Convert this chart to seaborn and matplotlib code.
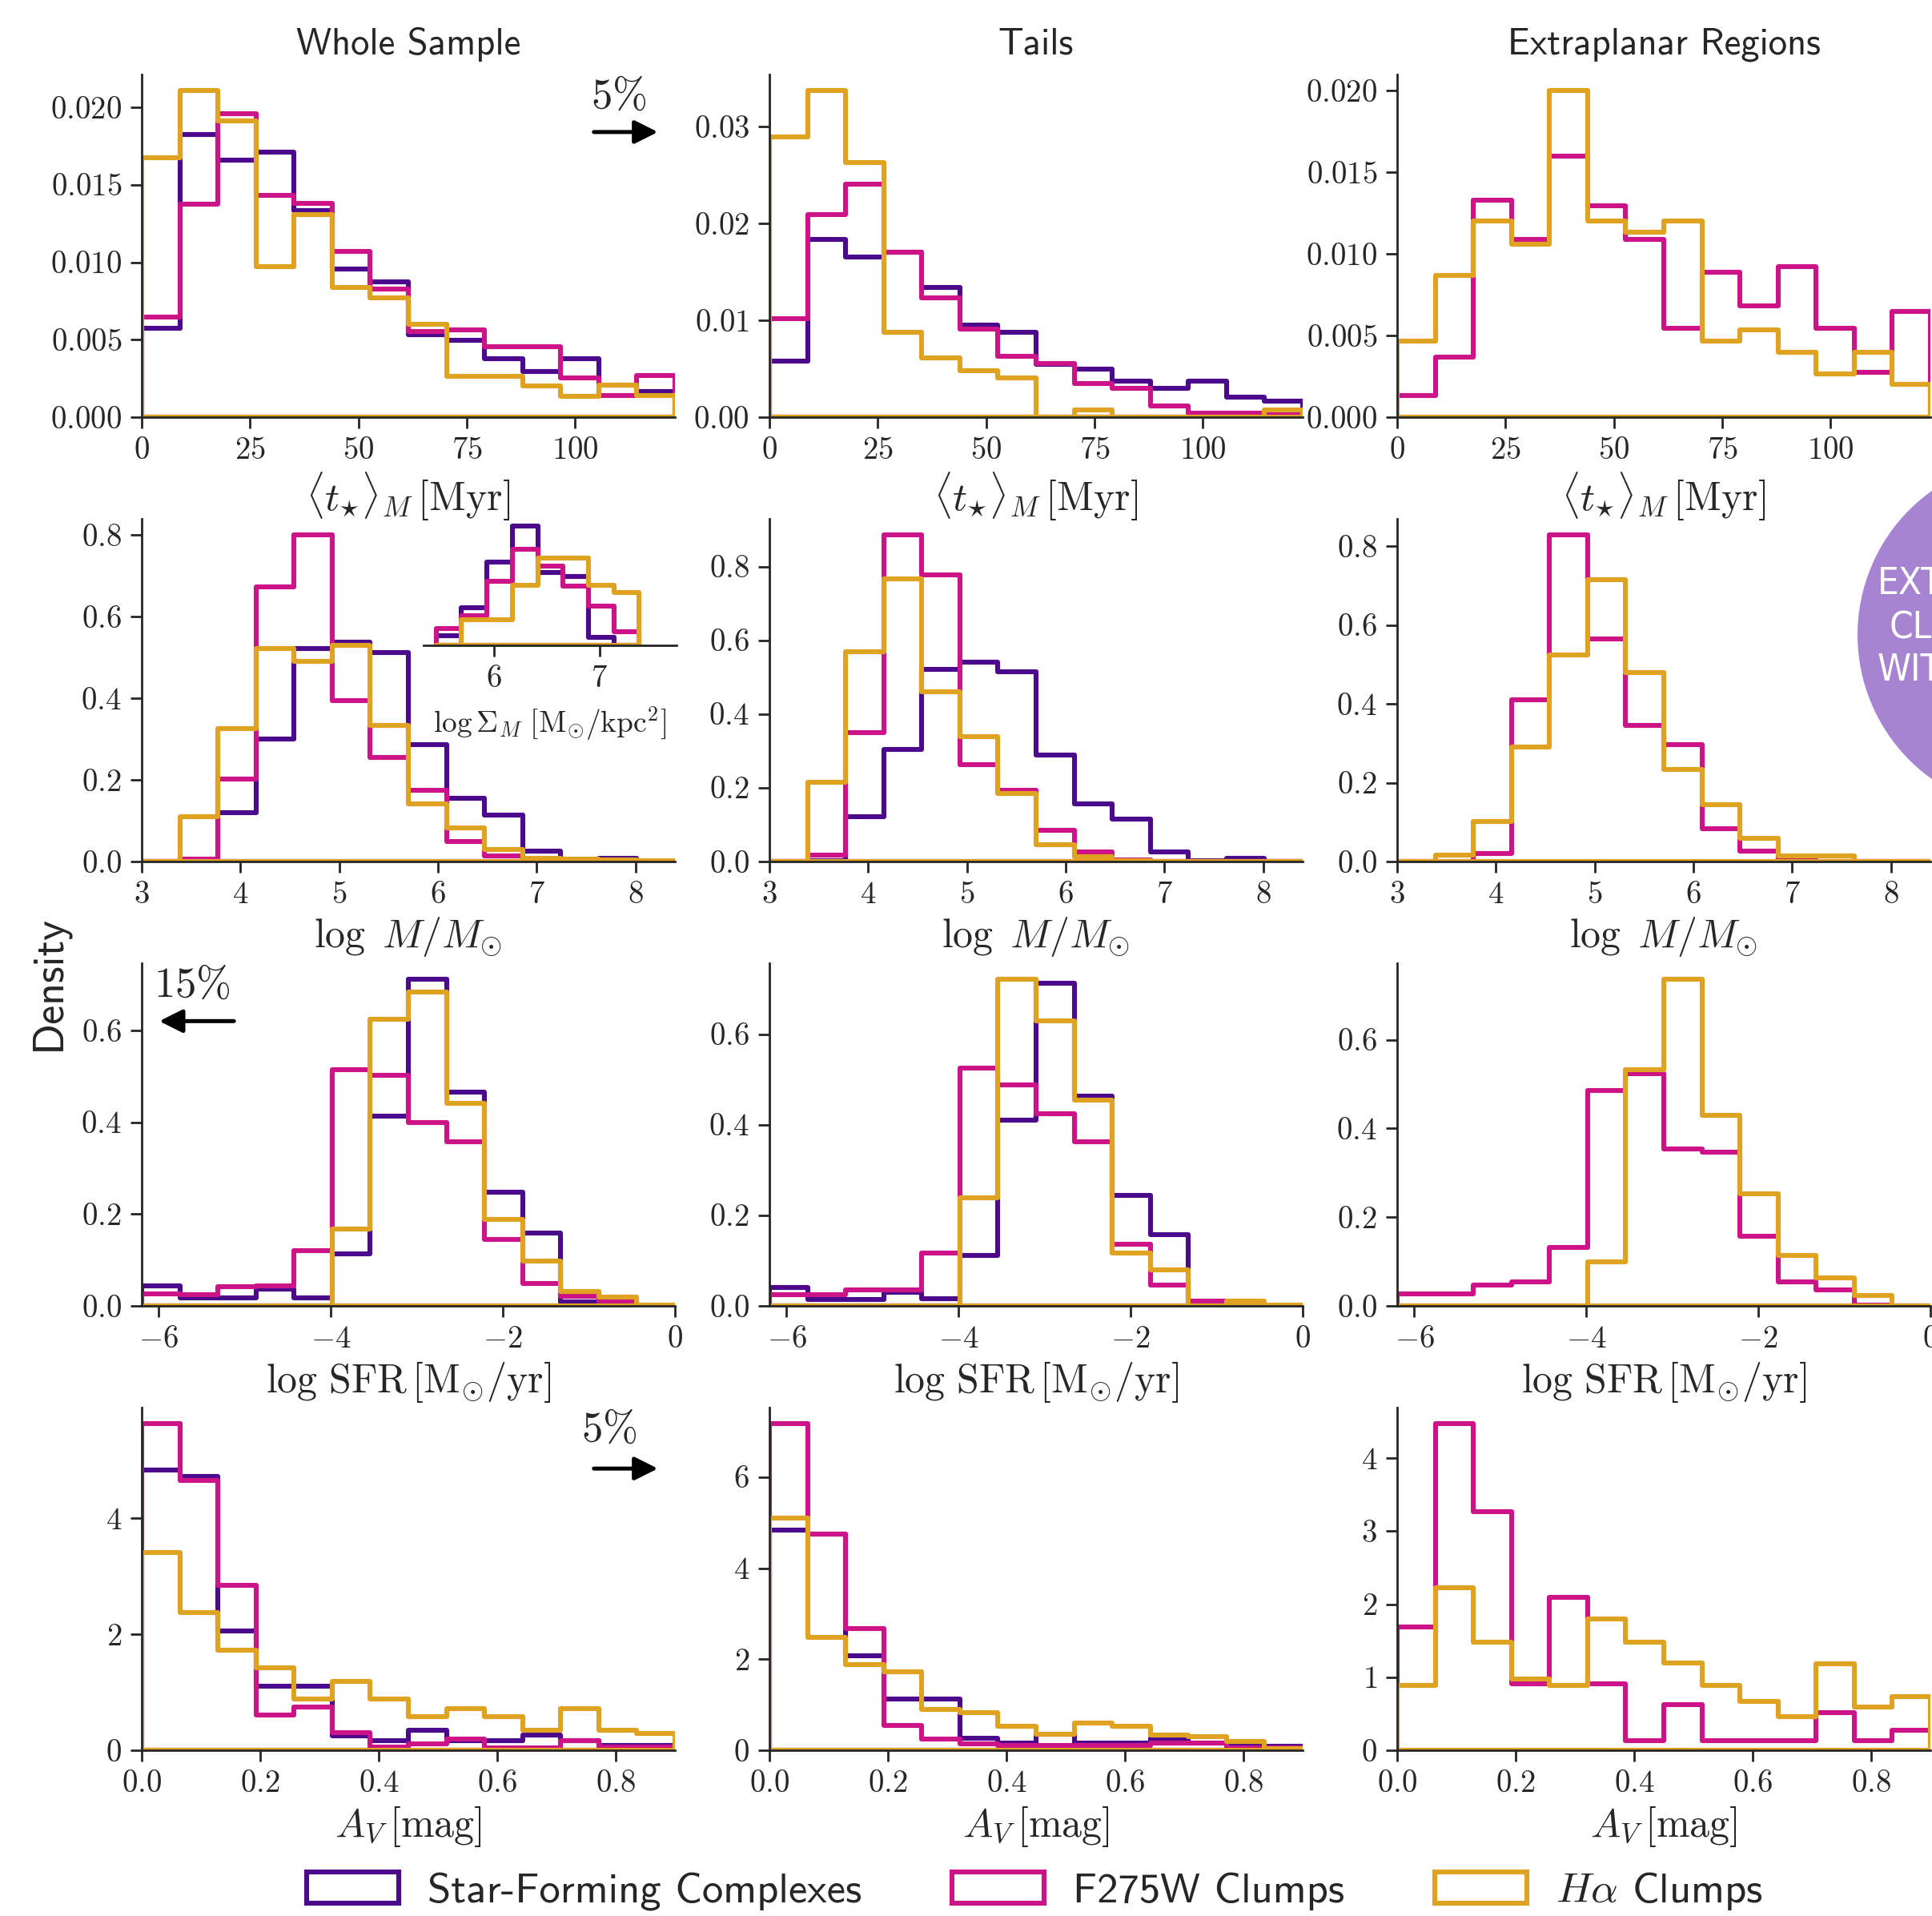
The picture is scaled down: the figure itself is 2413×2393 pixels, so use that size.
import numpy as np
import pandas as pd
import matplotlib
matplotlib.use("Agg")
import matplotlib.pyplot as plt
from matplotlib.patches import Patch, Ellipse
from matplotlib.ticker import FuncFormatter
import seaborn as sns

# ---------------------------------------------------------------------------
# Data: histogram densities per bin (14 bins per panel)
# ---------------------------------------------------------------------------
SERIES = ["Star-Forming Complexes", "F275W Clumps", r"$H\alpha$ Clumps"]
COLORS = ["#4b0a8c", "#cc1488", "#dfa321"]
SAMPLES = ["Whole Sample", "Tails", "Extraplanar Regions"]

AGE_RANGE = (0.0, 123.0)
MASS_RANGE = (3.0, 8.4)
SFR_RANGE = (-6.2, 0.0)
AV_RANGE = (0.0, 0.9)
N_BINS = 14

# mass-weighted stellar age  <t*>_M [Myr]
age_all_sfc = [0.00576, 0.01824, 0.01661, 0.0171, 0.01333, 0.00955, 0.00873,
               0.00534, 0.00498, 0.00375, 0.00294, 0.00375, 0.00205, 0.00163]
age_all_f275w = [0.00646, 0.01377, 0.01958, 0.01434, 0.01381, 0.0107, 0.0083,
                 0.00555, 0.00566, 0.00453, 0.00453, 0.00252, 0.00142, 0.00269]
age_all_ha = [0.01674, 0.02108, 0.01911, 0.00972, 0.01307, 0.00837, 0.00773,
              0.00602, 0.00265, 0.00265, 0.00201, 0.00136, 0.00205, 0.00142]
age_tails_sfc = [0.00582, 0.01833, 0.01654, 0.01708, 0.01336, 0.00954, 0.00876,
                 0.00548, 0.00497, 0.00369, 0.00294, 0.00372, 0.0021, 0.00166]
age_tails_f275w = [0.01015, 0.02097, 0.02408, 0.01708, 0.01234, 0.0091, 0.00632,
                   0.00558, 0.00345, 0.00294, 0.00118, 0.00041, 0.00041, 0.0003]
age_tails_ha = [0.02898, 0.03372, 0.02628, 0.00876, 0.00615, 0.0048, 0.00406,
                0.0, 0.00074, 0.0, 0.0, 0.0, 0.0, 0.00074]
age_extra_f275w = [0.00134, 0.00369, 0.01328, 0.01087, 0.01599, 0.01294, 0.01091,
                   0.00546, 0.00887, 0.0068, 0.00921, 0.00546, 0.00275, 0.00646]
age_extra_ha = [0.00465, 0.00867, 0.01202, 0.01061, 0.02, 0.01202, 0.01131,
                0.01202, 0.00465, 0.00536, 0.00399, 0.00265, 0.00399, 0.00199]

# stellar mass  log M/Msun
mass_all_sfc = [0.0, 0.002, 0.119, 0.300, 0.522, 0.538, 0.513,
                0.287, 0.156, 0.113, 0.026, 0.004, 0.008, 0.0]
mass_all_f275w = [0.0, 0.006, 0.203, 0.674, 0.800, 0.394, 0.256,
                  0.175, 0.049, 0.014, 0.004, 0.002, 0.001, 0.0]
mass_all_ha = [0.0, 0.110, 0.326, 0.522, 0.491, 0.530, 0.334,
               0.141, 0.082, 0.030, 0.008, 0.006, 0.004, 0.002]
mass_tails_sfc = [0.0, 0.002, 0.122, 0.304, 0.522, 0.541, 0.514,
                  0.289, 0.157, 0.114, 0.025, 0.003, 0.009, 0.0]
mass_tails_f275w = [0.0, 0.017, 0.349, 0.885, 0.778, 0.263, 0.193,
                    0.085, 0.025, 0.005, 0.0, 0.0, 0.0, 0.0]
mass_tails_ha = [0.0, 0.215, 0.569, 0.767, 0.461, 0.339, 0.184,
                 0.046, 0.013, 0.003, 0.001, 0.001, 0.001, 0.001]
mass_extra_f275w = [0.0, 0.001, 0.021, 0.411, 0.828, 0.565, 0.345,
                    0.297, 0.083, 0.027, 0.005, 0.001, 0.0, 0.0]
mass_extra_ha = [0.0, 0.016, 0.101, 0.290, 0.525, 0.714, 0.480,
                 0.234, 0.145, 0.058, 0.015, 0.015, 0.0, 0.0]

# star formation rate  log SFR [Msun/yr]
sfr_all_sfc = [0.044, 0.017, 0.017, 0.036, 0.017, 0.114, 0.413,
               0.711, 0.465, 0.247, 0.158, 0.009, 0.0075, 0.0]
sfr_all_f275w = [0.026, 0.025, 0.042, 0.044, 0.121, 0.514, 0.503,
                 0.400, 0.357, 0.144, 0.048, 0.021, 0.009, 0.0]
sfr_all_ha = [0.0, 0.0, 0.0, 0.0, 0.0, 0.167, 0.624,
              0.683, 0.442, 0.188, 0.098, 0.031, 0.020, 0.001]
sfr_tails_sfc = [0.041, 0.014, 0.014, 0.030, 0.016, 0.111, 0.411,
                 0.712, 0.463, 0.244, 0.157, 0.004, 0.003, 0.0]
sfr_tails_f275w = [0.025, 0.024, 0.035, 0.035, 0.116, 0.526, 0.489,
                   0.425, 0.362, 0.137, 0.046, 0.010, 0.006, 0.0]
sfr_tails_ha = [0.0, 0.0, 0.0, 0.0, 0.0, 0.238, 0.721,
                0.629, 0.454, 0.117, 0.079, 0.0, 0.010, 0.001]
sfr_extra_f275w = [0.027, 0.027, 0.047, 0.055, 0.132, 0.485, 0.524,
                   0.354, 0.346, 0.157, 0.055, 0.037, 0.001, 0.0]
sfr_extra_ha = [0.0, 0.0, 0.0, 0.0, 0.0, 0.100, 0.532,
                0.736, 0.430, 0.252, 0.113, 0.063, 0.024, 0.0]

# dust extinction  A_V [mag]
av_all_sfc = [4.83, 4.72, 2.06, 1.10, 1.10, 0.25, 0.16,
              0.35, 0.16, 0.16, 0.26, 0.16, 0.08, 0.08]
av_all_f275w = [5.63, 4.65, 2.84, 0.61, 0.74, 0.30, 0.06,
                0.11, 0.19, 0.04, 0.04, 0.16, 0.06, 0.06]
av_all_ha = [3.41, 2.38, 1.72, 1.42, 0.88, 1.19, 0.88,
             0.58, 0.72, 0.58, 0.35, 0.72, 0.35, 0.29]
av_tails_sfc = [4.83, 4.75, 2.07, 1.12, 1.12, 0.27, 0.16,
                0.35, 0.16, 0.16, 0.27, 0.16, 0.08, 0.08]
av_tails_f275w = [7.17, 4.75, 2.67, 0.55, 0.25, 0.14, 0.11,
                  0.11, 0.11, 0.11, 0.16, 0.16, 0.05, 0.05]
av_tails_ha = [5.10, 2.48, 1.88, 1.72, 0.90, 0.82, 0.52,
               0.35, 0.60, 0.52, 0.33, 0.30, 0.19, 0.03]
av_extra_f275w = [1.69, 4.47, 3.27, 0.91, 2.09, 0.91, 0.13,
                  0.62, 0.13, 0.13, 0.13, 0.52, 0.13, 0.27]
av_extra_ha = [0.89, 2.23, 1.48, 0.98, 0.89, 1.80, 1.48,
               1.20, 0.89, 0.67, 0.46, 1.18, 0.59, 0.73]

# inset: stellar mass surface density  log Sigma_M (whole sample)
SIGMA_RANGE = (5.45, 7.375)
SIGMA_BINS = 8
sigma_sfc = [0.099, 0.395, 0.870, 1.242, 0.764, 0.715, 0.082, 0.0]
sigma_f275w = [0.178, 0.310, 0.672, 1.001, 0.830, 0.616, 0.408, 0.145]
sigma_ha = [0.0, 0.270, 0.270, 0.626, 0.912, 0.912, 0.626, 0.550]

# axis ticks
age_xticks = [0, 25, 50, 75, 100]
mass_xticks = [3, 4, 5, 6, 7, 8]
sfr_xticks = [-6, -4, -2, 0]
av_xticks = [0.0, 0.2, 0.4, 0.6, 0.8]
age_yticks = [[0.0, 0.005, 0.010, 0.015, 0.020], [0.0, 0.01, 0.02, 0.03],
              [0.0, 0.005, 0.010, 0.015, 0.020]]
mass_yticks = [[0.0, 0.2, 0.4, 0.6, 0.8]] * 3
sfr_yticks = [[0.0, 0.2, 0.4, 0.6]] * 3
av_yticks = [[0, 2, 4], [0, 2, 4, 6], [0, 1, 2, 3, 4]]
sigma_xticks = [6, 7]

# ---------------------------------------------------------------------------
# Style
# ---------------------------------------------------------------------------
sns.set_theme(style="ticks")
plt.rcParams["font.family"] = ["cmss10", "DejaVu Sans"]
plt.rcParams["mathtext.fontset"] = "cm"
plt.rcParams["axes.edgecolor"] = "#262626"
plt.rcParams["axes.linewidth"] = 1.0
plt.rcParams["axes.unicode_minus"] = True

LW = 2.2
TICK_FS = 14
LABEL_FS = 18

rows = [
    dict(rng=AGE_RANGE, xticks=age_xticks, yticks=age_yticks, xfmt="%d",
         yfmt=["%.3f", "%.2f", "%.3f"],
         xlabel=r"$\langle t_{\star}\rangle_M\,[\mathrm{Myr}]$",
         data=[[age_all_sfc, age_all_f275w, age_all_ha],
               [age_tails_sfc, age_tails_f275w, age_tails_ha],
               [None, age_extra_f275w, age_extra_ha]]),
    dict(rng=MASS_RANGE, xticks=mass_xticks, yticks=mass_yticks, xfmt="%d",
         yfmt=["%.1f"] * 3, xlabel=r"$\log\ M/M_{\odot}$",
         data=[[mass_all_sfc, mass_all_f275w, mass_all_ha],
               [mass_tails_sfc, mass_tails_f275w, mass_tails_ha],
               [None, mass_extra_f275w, mass_extra_ha]]),
    dict(rng=SFR_RANGE, xticks=sfr_xticks, yticks=sfr_yticks, xfmt="%d",
         yfmt=["%.1f"] * 3,
         xlabel=r"$\log\,\mathrm{SFR}\,[\mathrm{M}_{\odot}/\mathrm{yr}]$",
         data=[[sfr_all_sfc, sfr_all_f275w, sfr_all_ha],
               [sfr_tails_sfc, sfr_tails_f275w, sfr_tails_ha],
               [None, sfr_extra_f275w, sfr_extra_ha]]),
    dict(rng=AV_RANGE, xticks=av_xticks, yticks=av_yticks, xfmt="%.1f",
         yfmt=["%d"] * 3, xlabel=r"$A_V\,[\mathrm{mag}]$",
         data=[[av_all_sfc, av_all_f275w, av_all_ha],
               [av_tails_sfc, av_tails_f275w, av_tails_ha],
               [None, av_extra_f275w, av_extra_ha]]),
]


def math_fmt(fmt):
    return FuncFormatter(lambda v, pos: r"$%s$" % (fmt % v))


def step_hist(ax, edges, heights, color):
    centers = 0.5 * (edges[:-1] + edges[1:])
    frame = pd.DataFrame({"value": centers, "density": heights})
    sns.histplot(data=frame, x="value", weights="density",
                 bins=[float(e) for e in edges], stat="count",
                 element="step", fill=True, color=color, facecolor="none",
                 edgecolor=color, linewidth=LW, ax=ax)


W, H, DPI = 2413, 2393, 200
fig, axes = plt.subplots(
    4, 3, figsize=(W / DPI, H / DPI), dpi=DPI,
    gridspec_kw=dict(left=0.07335, right=0.99917, top=0.96114, bottom=0.0865,
                     wspace=0.1772, hspace=0.2967))

for r, row in enumerate(rows):
    lo, hi = row["rng"]
    edges = np.linspace(lo, hi, N_BINS + 1)
    for c in range(3):
        ax = axes[r, c]
        ax.set_facecolor("none")
        ymax = 0.0
        for s, vals in enumerate(row["data"][c]):
            if vals is None:
                continue
            step_hist(ax, edges, np.asarray(vals), COLORS[s])
            ymax = max(ymax, max(vals))
        ax.set_xlim(lo, hi)
        ax.set_ylim(0, ymax * 1.05)
        ax.set_xticks(row["xticks"])
        ax.set_yticks(row["yticks"][c])
        ax.xaxis.set_major_formatter(math_fmt(row["xfmt"]))
        ax.yaxis.set_major_formatter(math_fmt(row["yfmt"][c]))
        ax.tick_params(labelsize=TICK_FS, length=5, width=1.0, pad=4,
                       color="#262626")
        ax.set_xlabel(row["xlabel"], fontsize=LABEL_FS, labelpad=2.5)
        ax.set_ylabel("")
        sns.despine(ax=ax)
        if r == 0:
            ax.set_title(SAMPLES[c], fontsize=16.8, pad=9)

# out-of-range fractions
arrow_kw = dict(arrowstyle="-|>", color="black", lw=1.8, mutation_scale=22,
                shrinkA=0, shrinkB=0)
for ax, txt, tx, ty, x0, x1, ya in [
    (axes[0, 0], r"$5\%$", 0.895, 0.935, 0.848, 0.968, 0.832),
    (axes[3, 0], r"$5\%$", 0.876, 0.935, 0.848, 0.968, 0.822),
    (axes[2, 0], r"$15\%$", 0.095, 0.935, 0.173, 0.033, 0.831),
]:
    ax.text(tx, ty, txt, transform=ax.transAxes, ha="center", va="center",
            fontsize=19)
    ax.annotate("", xy=(x1, ya), xytext=(x0, ya), xycoords="axes fraction",
                textcoords="axes fraction", arrowprops=arrow_kw)

# inset with the stellar mass surface density
axin = fig.add_axes([0.2192, 0.6632, 0.1310, 0.0652])
sedges = np.linspace(SIGMA_RANGE[0], SIGMA_RANGE[1], SIGMA_BINS + 1)
for s, vals in enumerate([sigma_sfc, sigma_f275w, sigma_ha]):
    step_hist(axin, sedges, np.asarray(vals), COLORS[s])
axin.set_xlim(5.33, 7.73)
axin.set_ylim(0, max(sigma_sfc) * 1.05)
axin.set_xticks(sigma_xticks)
axin.xaxis.set_major_formatter(math_fmt("%d"))
axin.set_yticks([])
axin.set_ylabel("")
axin.tick_params(labelsize=TICK_FS, length=5, width=1.0, pad=4)
axin.set_xlabel(r"$\log\Sigma_M\ [\mathrm{M}_{\odot}/\mathrm{kpc}^2]$",
                fontsize=13.5, labelpad=5)
axin.set_facecolor("none")
for side in ["left", "top", "right"]:
    axin.spines[side].set_visible(False)

fig.text(0.0255, 0.487, "Density", rotation=90, ha="center", va="center",
         fontsize=19.5)

handles = [Patch(facecolor="none", edgecolor=col, linewidth=LW, label=lab)
           for col, lab in zip(COLORS, SERIES)]
fig.legend(handles=handles, loc="center", bbox_to_anchor=(0.5355, 0.013),
           ncol=3, frameon=False, fontsize=19, handlelength=2.18,
           handleheight=0.76, handletextpad=0.68, columnspacing=2.14)

# badge on the right margin
badge = Ellipse((2541 / W, 1 - 793 / H), 2 * 221 / W, 2 * 221 / H,
                transform=fig.transFigure, facecolor="#a684d2",
                edgecolor="none", zorder=10)
fig.add_artist(badge)
for txt, x, y in [("EXTR", 2345, 730), ("CLU", 2360, 785), ("WITH", 2345, 838)]:
    fig.text(x / W, 1 - y / H, txt, ha="left", va="center", color="white",
             fontsize=17, family=["DejaVu Sans"], fontstretch="condensed",
             zorder=11)

fig.savefig("out.png", dpi=DPI)
